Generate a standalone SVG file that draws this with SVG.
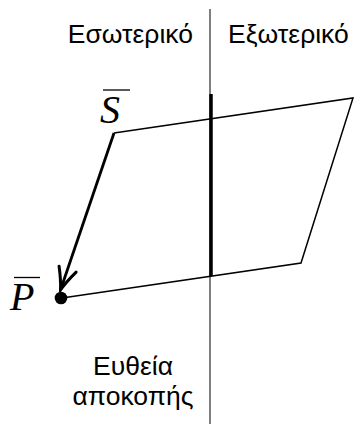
<svg xmlns="http://www.w3.org/2000/svg" width="354" height="424" viewBox="0 0 354 424">
<style>
.lbl{font-family:"Liberation Sans",Arial,sans-serif;font-size:26.5px;fill:#000}
.math{font-family:"Liberation Serif","Times New Roman",serif;font-style:italic;font-size:40px;fill:#000}
.edge{fill:none;stroke:#000;stroke-width:1.5}
</style>
<defs>
<marker id="barb" markerUnits="userSpaceOnUse" viewBox="-24 -12 26 24" refX="0" refY="0" markerWidth="26" markerHeight="24" orient="auto">
<path d="M-22,-9 Q-9,-2.5 0,0 Q-9,2.5 -22,9" fill="none" stroke="#000" stroke-width="3" stroke-linecap="round"/>
</marker>
</defs>
<g id="clip-line">
<line x1="210" y1="9" x2="210" y2="424" stroke="#555" stroke-width="1.5"/>
<line x1="211" y1="94" x2="211" y2="276" stroke="#000" stroke-width="3.5"/>
</g>
<g id="polygon">
<path class="edge" d="M114,133 L353,98 L301,263 L62,298"/>
</g>
<g id="connectors">
<line x1="114" y1="133" x2="60.5" y2="290" stroke="#000" stroke-width="2.8" marker-end="url(#barb)"/>
</g>
<g id="P">
<circle cx="61" cy="298" r="6.3" fill="#000"/>
<text class="math" x="10" y="310">P</text>
<line x1="14" y1="277.5" x2="40" y2="277.5" stroke="#000" stroke-width="1.3"/>
</g>
<g id="S">
<text class="math" x="100" y="123">S</text>
<line x1="103" y1="90" x2="130" y2="90" stroke="#000" stroke-width="1.3"/>
</g>
<g id="inside"><text class="lbl" x="193" y="43" text-anchor="end">Εσωτερικό</text></g>
<g id="outside"><text class="lbl" x="228" y="43">Εξωτερικό</text></g>
<g id="clipline-label">
<text class="lbl" x="133" y="375" text-anchor="middle">Ευθεία</text>
<text class="lbl" x="133" y="405" text-anchor="middle">αποκοπής</text>
</g>
</svg>
